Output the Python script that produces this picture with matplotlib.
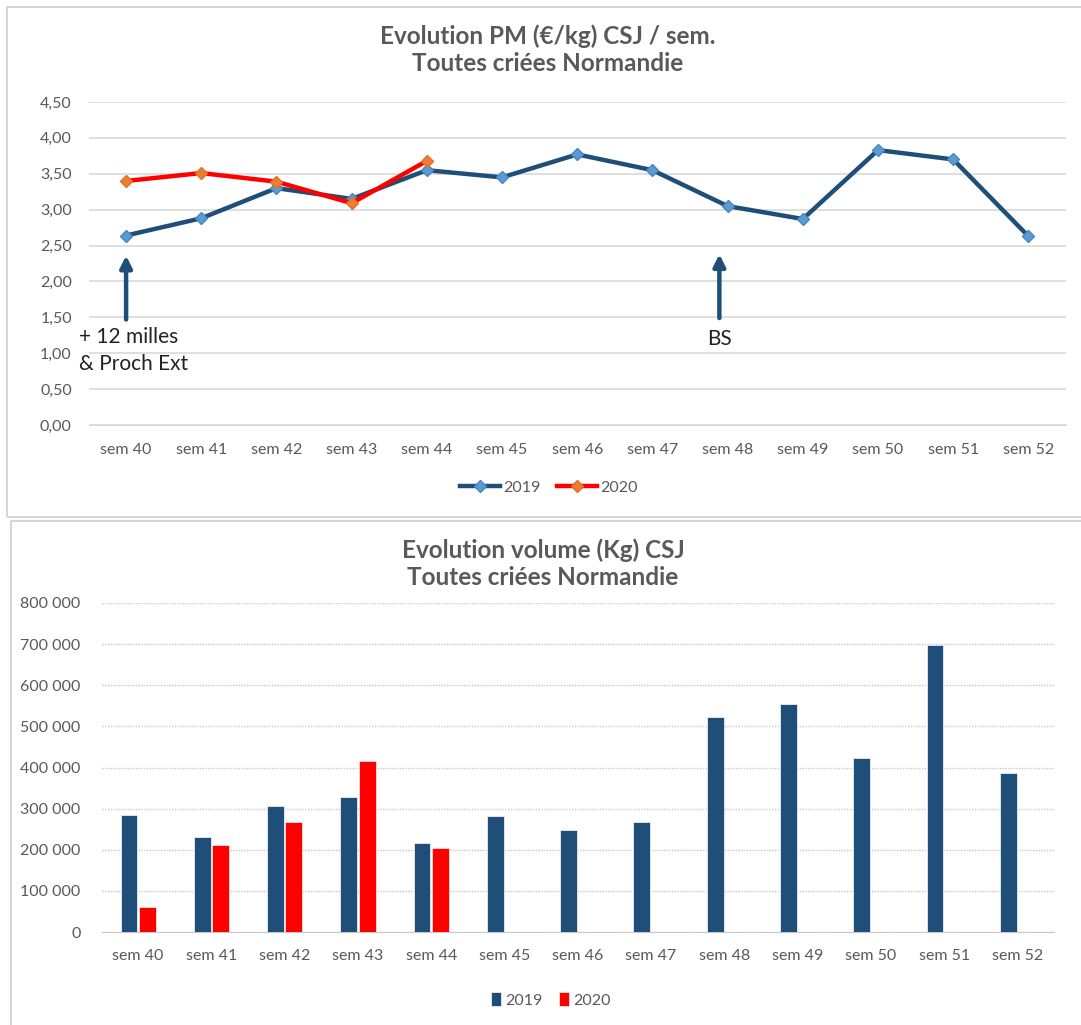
import matplotlib.pyplot as plt
from matplotlib.patches import Rectangle
import numpy as np

plt.rcParams['font.family'] = ['Lato', 'DejaVu Sans']

# données
semaines = ['sem 40', 'sem 41', 'sem 42', 'sem 43', 'sem 44', 'sem 45', 'sem 46',
            'sem 47', 'sem 48', 'sem 49', 'sem 50', 'sem 51', 'sem 52']
pm_2019 = [2.64, 2.88, 3.30, 3.15, 3.55, 3.45, 3.77, 3.55, 3.05, 2.87, 3.83, 3.70, 2.63]
pm_2020 = [3.40, 3.51, 3.39, 3.09, 3.68]
vol_2019 = [285000, 231000, 307000, 329000, 216000, 282000, 249000, 267000,
            523000, 555000, 424000, 699000, 387000]
vol_2020 = [62000, 212000, 267000, 417000, 205000]

W, H = 1081, 1025
BLEU = '#1F4E79'
ROUGE = '#FF0000'
GRIS = '#595959'


def fx(px):
    return px / W


def fy(py):
    return 1 - py / H


fig = plt.figure(figsize=(W / 100, H / 100), dpi=100)

# cadres des deux graphiques
fig.patches.append(Rectangle((fx(7), fy(517)), fx(1090 - 7), fy(7) - fy(517),
                             transform=fig.transFigure, fill=False,
                             edgecolor='#D0D0D0', lw=1.2))
fig.patches.append(Rectangle((fx(11), fy(1040)), fx(1090 - 11), fy(521) - fy(1040),
                             transform=fig.transFigure, fill=False,
                             edgecolor='#D0D0D0', lw=1.2))

x = np.arange(len(semaines))

# ---- graphique du haut : prix moyen ----
ax1 = fig.add_axes([fx(88.5), fy(425), fx(1066 - 88.5), fy(102) - fy(425)])
ax1.plot(x, pm_2019, color=BLEU, lw=3.2, marker='D', markersize=6.5,
         markerfacecolor='#5B9BD5', markeredgecolor='#4A86C0', label='2019', zorder=3)
ax1.plot(x[:len(pm_2020)], pm_2020, color=ROUGE, lw=3.2, marker='D', markersize=6.5,
         markerfacecolor='#ED7D31', markeredgecolor='#E0702A', label='2020', zorder=4)
ax1.set_xlim(-0.5, len(semaines) - 0.5)
ax1.set_ylim(0, 4.5)
ax1.set_yticks(np.arange(0, 4.51, 0.5))
ax1.set_yticklabels([('%.2f' % v).replace('.', ',') for v in np.arange(0, 4.51, 0.5)])
ax1.set_xticks(x)
ax1.set_xticklabels(semaines)
ax1.grid(axis='y', color='#D9D9D9', lw=1.2)
ax1.set_axisbelow(True)
for s in ax1.spines.values():
    s.set_visible(False)
ax1.spines['bottom'].set_visible(True)
ax1.spines['bottom'].set_color('#D9D9D9')
ax1.tick_params(length=0, colors=GRIS, labelsize=11.5, pad=13)
ax1.tick_params(axis='y', pad=12)

# flèches et annotations
ax1.annotate('', xy=(0, 2.36), xytext=(0, 1.47),
             arrowprops=dict(arrowstyle='-|>,head_width=0.35,head_length=0.7',
                             color=BLEU, lw=3.2, shrinkA=0, shrinkB=0))
ax1.annotate('', xy=(7.89, 2.38), xytext=(7.89, 1.49),
             arrowprops=dict(arrowstyle='-|>,head_width=0.35,head_length=0.7',
                             color=BLEU, lw=3.2, shrinkA=0, shrinkB=0))
ax1.text(-0.626, 1.04, '+ 12 milles\n& Proch Ext', fontsize=15, color='#222222',
         va='center', ha='left', linespacing=1.45, clip_on=False)
ax1.text(7.89, 1.20, 'BS', fontsize=15, color='#222222', va='center', ha='center')

fig.text(fx(548), fy(50), 'Evolution PM (€/kg) CSJ / sem.\nToutes criées Normandie',
         ha='center', va='center', fontsize=17.5, fontweight='bold', color=GRIS,
         linespacing=1.2)
fig.legend(*ax1.get_legend_handles_labels(), loc='center', ncol=2,
           bbox_to_anchor=(fx(549), fy(488)), frameon=False, fontsize=11.5,
           labelcolor=GRIS, handlelength=2.5, columnspacing=1.0, handletextpad=0.2)

# ---- graphique du bas : volumes ----
ax2 = fig.add_axes([fx(101.5), fy(932), fx(1054 - 101.5), fy(603) - fy(932)])
bw = 0.23
ax2.bar(x - 0.125, vol_2019, width=bw, color=BLEU, edgecolor='#E8EEF4', lw=0.6,
        label='2019', zorder=3)
ax2.bar(x[:len(vol_2020)] + 0.125, vol_2020, width=bw, color=ROUGE, edgecolor='#FFE0E0',
        lw=0.6, label='2020', zorder=3)
ax2.set_xlim(-0.5, len(semaines) - 0.5)
ax2.set_ylim(0, 800000)
ax2.set_yticks(np.arange(0, 800001, 100000))
ax2.set_yticklabels(['0'] + ['{:,}'.format(v).replace(',', ' ')
                             for v in range(100000, 800001, 100000)])
ax2.set_xticks(x)
ax2.set_xticklabels(semaines)
ax2.grid(axis='y', color='#C8C8C8', lw=1.0, ls=(0, (1, 1)))
ax2.set_axisbelow(True)
for s in ax2.spines.values():
    s.set_visible(False)
ax2.spines['bottom'].set_visible(True)
ax2.spines['bottom'].set_color('#C8C8C8')
ax2.spines['bottom'].set_linestyle((0, (1, 1)))
ax2.tick_params(length=0, colors=GRIS, labelsize=11.5, pad=12)
ax2.tick_params(axis='y', pad=15)

fig.text(fx(543), fy(564), 'Evolution volume (Kg) CSJ\nToutes criées Normandie',
         ha='center', va='center', fontsize=17.5, fontweight='bold', color=GRIS,
         linespacing=1.2)
fig.legend(*ax2.get_legend_handles_labels(), loc='center', ncol=2,
           bbox_to_anchor=(fx(551), fy(1000)), frameon=False, fontsize=11.5,
           labelcolor=GRIS, handlelength=0.6, handleheight=1.0,
           columnspacing=1.0, handletextpad=0.3)

fig.savefig('out.png', dpi=100, facecolor='white')
